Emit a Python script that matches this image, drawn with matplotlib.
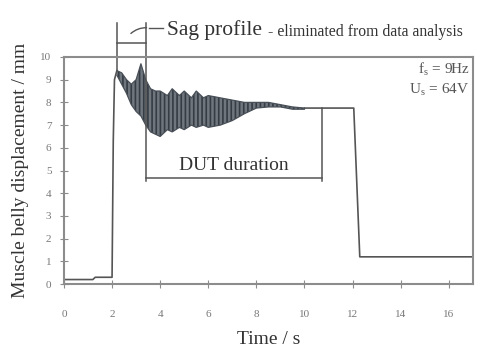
import matplotlib
matplotlib.use("Agg")
import matplotlib.pyplot as plt

plt.rcParams['font.family'] = ['Liberation Serif', 'DejaVu Serif']
plt.rcParams['mathtext.fontset'] = 'stix'
plt.rcParams['hatch.linewidth'] = 1.2

# step parts of the trace (time s, displacement mm)
t_start = [0, 1.2, 1.3, 2.0, 2.05, 2.1, 2.2]
d_start = [0.2, 0.2, 0.3, 0.3, 6.3, 9.0, 9.4]
t_end = [10.0, 12.05, 12.3, 17.0]
d_end = [7.75, 7.75, 1.2, 1.2]

# oscillating part: upper / lower envelope
t_osc = [2.2, 2.4, 2.6, 2.8, 3.0, 3.2, 3.4, 3.6, 3.8, 4.0, 4.3, 4.5, 4.8,
         5.0, 5.3, 5.5, 5.8, 6.0, 6.5, 7.0, 7.5, 8.0, 8.5, 9.0, 9.5, 10.0]
d_upper = [9.4, 9.3, 9.0, 8.8, 9.0, 9.7, 9.0, 8.6, 8.5, 8.5, 8.3, 8.6, 8.3,
           8.5, 8.2, 8.5, 8.2, 8.3, 8.2, 8.1, 8.0, 8.0, 8.0, 7.9, 7.8, 7.75]
d_lower = [9.2, 8.8, 8.4, 7.9, 7.6, 7.4, 7.0, 6.7, 6.6, 6.5, 6.8, 6.7, 6.9,
           6.8, 7.0, 6.9, 7.0, 6.9, 7.0, 7.2, 7.5, 7.75, 7.8, 7.8, 7.7, 7.7]

sag_start, sag_end = 2.2, 3.4
dut_end = 10.75

frame = '#8c8c8c'
ink = '#333333'

fig = plt.figure(figsize=(4.92, 3.56), dpi=100)
ax = fig.add_axes([0.130, 0.202, 0.831, 0.638])

ax.plot(t_start, d_start, color='#555555', lw=1.2)
ax.plot(t_end, d_end, color='#555555', lw=1.2)
ax.fill_between(t_osc, d_lower, d_upper, facecolor='#6f767e',
                edgecolor='#363c44', hatch='||||', linewidth=0)
ax.plot(t_osc, d_upper, color='#4a5058', lw=0.9)
ax.plot(t_osc, d_lower, color='#4a5058', lw=0.9)

ax.set_xlim(0, 17)
ax.set_ylim(0, 10)
ax.set_xticks(range(0, 17, 2))
ax.set_yticks(range(0, 11))
for s in ax.spines.values():
    s.set_color(frame)
    s.set_linewidth(1.5)
ax.tick_params(axis='x', direction='inout', length=6, color=frame,
               labelcolor='#777777', labelsize=8, pad=16)
ax.tick_params(axis='y', direction='inout', length=6, color=frame,
               labelcolor='#777777', labelsize=8, pad=6)

ax.set_xlabel('Time / s', fontsize=14, color=ink, labelpad=8)
ax.set_ylabel('Muscle belly displacement / mm', fontsize=14, color=ink,
              labelpad=8)

# sag profile bracket
lc = '#555555'
ax.plot([sag_start, sag_start], [11.5, 9.4], color=lc, lw=1.1, clip_on=False)
ax.plot([sag_end, sag_end], [11.5, 4.55], color=lc, lw=1.1, clip_on=False)
ax.plot([sag_start, sag_end], [10.6, 10.6], color=lc, lw=1.1, clip_on=False)
ax.annotate('', xy=(2.7, 10.95), xytext=(3.55, 11.28),
            arrowprops=dict(arrowstyle='-', color=lc, lw=1.0,
                            connectionstyle='arc3,rad=0.25'),
            annotation_clip=False)
ax.plot([3.55, 4.1], [11.28, 11.28], color=lc, lw=1.0, clip_on=False)
ax.text(4.29, 11.2, 'Sag profile', fontsize=15.5, color=ink, va='center')
ax.text(8.5, 11.1, '- eliminated from data analysis', fontsize=11.3,
        color=ink, va='center')

# DUT duration bracket
ax.plot([sag_end, dut_end], [4.67, 4.67], color=lc, lw=1.1)
ax.plot([dut_end, dut_end], [7.75, 4.55], color=lc, lw=1.1)
ax.text((sag_end + dut_end) / 2, 4.85, 'DUT duration', fontsize=14,
        color=ink, ha='center', va='bottom')

ax.text(16.85, 9.45, 'f$_\\mathregular{s}$ = 9Hz', fontsize=11, color='#555555',
        ha='right', va='center')
ax.text(16.85, 8.55, 'U$_\\mathregular{s}$ = 64V', fontsize=11, color='#555555',
        ha='right', va='center')

fig.savefig('out.png', dpi=100)
